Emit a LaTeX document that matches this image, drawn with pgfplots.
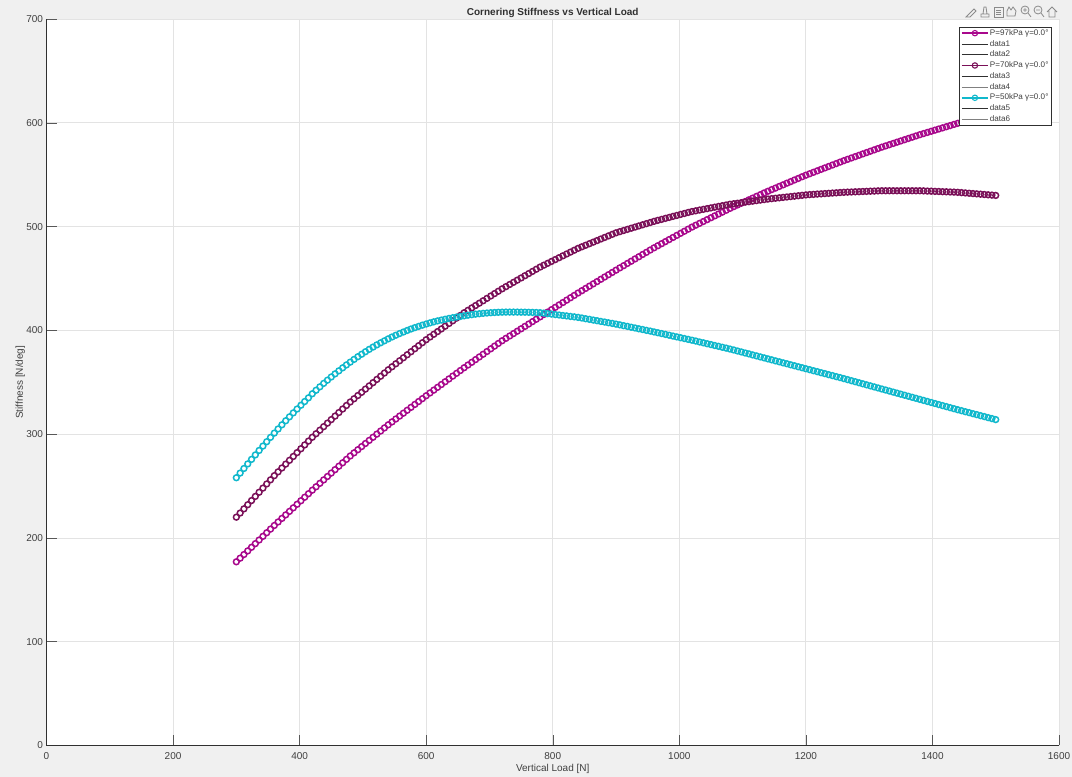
\documentclass[border=0pt]{standalone}
\usepackage{fontspec}
\setmainfont{Liberation Sans}
\usepackage{pgfplots}
\usepackage{pgfplotstable}
\pgfplotsset{compat=1.18}
\definecolor{figbg}{HTML}{F0F0F0}
\definecolor{txt}{HTML}{404040}
\definecolor{axln}{HTML}{303030}
\definecolor{tickc}{HTML}{585858}
\definecolor{gridc}{HTML}{E3E3E3}
\definecolor{cA}{HTML}{A8088C}
\definecolor{cB}{HTML}{7A1058}
\definecolor{cC}{HTML}{10B8CC}
\definecolor{icon}{HTML}{8A8A8A}
% load, then stiffness at 97, 70, 50 kPa
\pgfplotstableread{
x a b c
300 177.0 220.0 258.0
306 180.5 224.0 262.5
312 184.0 228.0 266.9
318 187.5 232.0 271.3
324 191.0 236.0 275.7
330 194.5 240.0 280.0
336 198.0 244.0 284.3
342 201.5 248.0 288.5
348 205.0 252.0 292.7
354 208.5 256.0 296.9
360 212.0 260.0 301.0
366 215.4 263.7 305.0
372 218.8 267.4 309.0
378 222.2 271.1 312.9
384 225.6 274.8 316.7
390 229.0 278.5 320.5
396 232.4 282.2 324.2
402 235.8 285.9 327.8
408 239.2 289.6 331.4
414 242.6 293.3 335.0
420 246.0 297.0 338.9
426 249.3 300.4 342.3
432 252.6 303.8 345.6
438 255.9 307.2 348.9
444 259.2 310.6 352.0
450 262.5 314.0 355.1
456 265.8 317.4 358.1
462 269.1 320.8 361.0
468 272.4 324.2 363.9
474 275.7 327.6 366.7
480 279.0 331.0 369.4
486 282.0 334.1 372.0
492 285.0 337.2 374.6
498 288.0 340.3 377.0
504 291.0 343.4 379.4
510 294.0 346.5 381.7
516 297.0 349.6 383.9
522 300.0 352.7 386.0
528 303.0 355.8 388.0
534 306.0 358.9 389.9
540 309.0 362.0 391.8
546 311.8 364.9 393.6
552 314.6 367.8 395.3
558 317.4 370.7 396.9
564 320.2 373.6 398.4
570 323.0 376.5 399.9
576 325.8 379.4 401.3
582 328.6 382.3 402.6
588 331.4 385.2 403.8
594 334.2 388.1 405.0
600 337.0 391.0 406.1
606 339.7 393.6 407.2
612 342.4 396.2 408.2
618 345.1 398.8 409.1
624 347.8 401.4 409.9
630 350.5 404.0 410.7
636 353.2 406.6 411.5
642 355.9 409.2 412.2
648 358.6 411.8 412.8
654 361.3 414.4 413.4
660 364.0 417.0 414.0
666 366.6 419.3 414.6
672 369.2 421.6 415.1
678 371.8 423.9 415.6
684 374.4 426.2 416.0
690 377.0 428.5 416.4
696 379.6 430.8 416.7
702 382.2 433.1 417.0
708 384.8 435.4 417.2
714 387.4 437.7 417.4
720 390.0 440.0 417.5
726 392.3 442.1 417.6
732 394.6 444.2 417.6
738 396.9 446.3 417.6
744 399.2 448.4 417.6
750 401.5 450.5 417.5
756 403.8 452.6 417.5
762 406.1 454.7 417.4
768 408.4 456.8 417.3
774 410.7 458.9 417.2
780 413.0 461.0 417.0
786 415.3 462.8 416.6
792 417.6 464.6 416.1
798 419.9 466.4 415.7
804 422.2 468.2 415.2
810 424.5 470.0 414.8
816 426.8 471.8 414.3
822 429.1 473.6 413.9
828 431.4 475.4 413.4
834 433.7 477.2 413.0
840 436.0 479.0 412.5
846 438.2 480.5 411.9
852 440.4 482.0 411.2
858 442.6 483.5 410.6
864 444.8 485.0 409.9
870 447.0 486.5 409.3
876 449.2 488.0 408.6
882 451.4 489.5 408.0
888 453.6 491.0 407.3
894 455.8 492.5 406.7
900 458.0 494.0 406.0
906 460.2 495.1 405.3
912 462.3 496.2 404.5
918 464.5 497.3 403.8
924 466.6 498.4 403.0
930 468.8 499.5 402.3
936 470.9 500.6 401.5
942 473.1 501.7 400.8
948 475.2 502.8 400.0
954 477.4 503.9 399.3
960 479.5 505.0 398.5
966 481.5 506.0 397.7
972 483.5 506.9 396.9
978 485.5 507.9 396.1
984 487.5 508.8 395.3
990 489.5 509.8 394.5
996 491.5 510.7 393.7
1002 493.5 511.7 392.9
1008 495.5 512.6 392.1
1014 497.5 513.6 391.3
1020 499.5 514.5 390.5
1026 501.3 515.2 389.7
1032 503.1 515.9 388.8
1038 504.9 516.6 388.0
1044 506.7 517.3 387.1
1050 508.5 518.0 386.3
1056 510.3 518.7 385.4
1062 512.1 519.4 384.6
1068 513.9 520.1 383.7
1074 515.7 520.8 382.9
1080 517.5 521.5 382.0
1086 519.2 522.0 381.1
1092 520.8 522.5 380.1
1098 522.5 523.0 379.2
1104 524.1 523.5 378.2
1110 525.8 524.0 377.3
1116 527.4 524.5 376.3
1122 529.1 525.0 375.4
1128 530.7 525.5 374.4
1134 532.4 526.0 373.5
1140 534.0 526.5 372.5
1146 535.6 526.9 371.6
1152 537.1 527.3 370.6
1158 538.7 527.7 369.7
1164 540.2 528.1 368.7
1170 541.8 528.5 367.8
1176 543.3 528.9 366.8
1182 544.9 529.3 365.9
1188 546.4 529.7 364.9
1194 548.0 530.1 364.0
1200 549.5 530.5 363.0
1206 550.9 530.8 362.1
1212 552.3 531.0 361.1
1218 553.7 531.3 360.2
1224 555.1 531.5 359.2
1230 556.5 531.8 358.3
1236 557.9 532.0 357.3
1242 559.3 532.3 356.4
1248 560.7 532.5 355.4
1254 562.1 532.8 354.5
1260 563.5 533.0 353.5
1266 564.8 533.2 352.5
1272 566.1 533.3 351.5
1278 567.4 533.5 350.5
1284 568.7 533.6 349.5
1290 570.0 533.8 348.5
1296 571.3 533.9 347.5
1302 572.6 534.1 346.5
1308 573.9 534.2 345.5
1314 575.2 534.4 344.5
1320 576.5 534.5 343.5
1326 577.7 534.5 342.5
1332 578.9 534.5 341.5
1338 580.1 534.5 340.5
1344 581.3 534.5 339.5
1350 582.5 534.5 338.5
1356 583.7 534.5 337.5
1362 584.9 534.5 336.5
1368 586.1 534.5 335.5
1374 587.3 534.5 334.5
1380 588.5 534.5 333.5
1386 589.6 534.4 332.5
1392 590.7 534.2 331.5
1398 591.8 534.1 330.5
1404 592.9 533.9 329.5
1410 594.0 533.8 328.5
1416 595.1 533.6 327.5
1422 596.2 533.5 326.5
1428 597.3 533.3 325.5
1434 598.4 533.2 324.5
1440 599.5 533.0 323.5
1446 600.5 532.7 322.6
1452 601.4 532.4 321.6
1458 602.4 532.1 320.7
1464 603.3 531.8 319.7
1470 604.3 531.5 318.8
1476 605.2 531.2 317.8
1482 606.2 530.9 316.9
1488 607.1 530.6 315.9
1494 608.1 530.3 315.0
1500 609.0 530.0 314.0
}\stiff
\begin{document}
\begin{tikzpicture}[x=1pt,y=1pt]
\fill[figbg] (0,0) rectangle (1072,777);
\useasboundingbox (0,0) rectangle (1072,777);
\begin{axis}[
  at={(46.5pt,31.5pt)}, anchor=south west,
  scale only axis, width=1012.5pt, height=726.5pt,
  xmin=0, xmax=1600, ymin=0, ymax=700,
  xtick={0,200,...,1600}, ytick={0,100,...,700},
  axis lines=left, axis line style={-, color=axln, line width=1.3pt},
  axis background/.style={fill=white},
  tick align=inside, tick style={color=tickc, line width=0.5pt},
  major tick length=10pt,
  grid=major, grid style={gridc, line width=0.8pt},
  tick label style={color=txt, font=\fontsize{10}{12}\selectfont},
  /pgf/number format/assume math mode=true,
  /pgf/number format/1000 sep={},
  xticklabel style={yshift=-3pt},
  xlabel={Vertical Load [N]}, ylabel={Stiffness [N/deg]},
  label style={color=txt, font=\fontsize{10}{12}\selectfont},
  xlabel style={at={(axis description cs:0.5,0)}, yshift=-15pt},
  ylabel style={at={(axis description cs:0,0.5)}, yshift=18pt},
  title={\bfseries Cornering Stiffness vs Vertical Load},
  title style={at={(axis description cs:0.5,1)}, yshift=-8pt, font=\fontsize{10}{12}\selectfont, color=axln},
  legend cell align=left,
  legend image code/.code={\draw[mark repeat=2,mark phase=2,#1] plot coordinates {(0pt,0pt)(13pt,0pt)(26pt,0pt)};},
  legend style={at={(0.9921,0.989)}, anchor=north east, draw=axln, line width=0.7pt, fill=white,
    font=\fontsize{8.1}{9.5}\selectfont, text=txt, inner sep=1.5pt, row sep=1.4pt, outer sep=0pt,
    nodes={inner xsep=1pt, inner ysep=1pt}},
  clip mode=individual,
]
\addplot[only marks, mark=o, mark size=2.9pt, forget plot, mark options={color=cA, line width=1.5pt}] table[x=x,y=a] {\stiff};
\addplot[only marks, mark=o, mark size=2.9pt, forget plot, mark options={color=cB, line width=1.5pt}] table[x=x,y=b] {\stiff};
\addplot[only marks, mark=o, mark size=2.9pt, forget plot, mark options={color=cC, line width=1.5pt}] table[x=x,y=c] {\stiff};
\addlegendimage{cA, line width=1.9pt, mark=o, mark size=2.7pt, mark options={line width=1.1pt}}
\addlegendentry{P=97kPa γ=0.0°}
\addlegendimage{axln, line width=0.6pt}
\addlegendentry{data1}
\addlegendimage{axln, line width=0.6pt}
\addlegendentry{data2}
\addlegendimage{cB, line width=1.9pt, mark=o, mark size=2.7pt, mark options={line width=1.1pt}}
\addlegendentry{P=70kPa γ=0.0°}
\addlegendimage{axln, line width=0.6pt}
\addlegendentry{data3}
\addlegendimage{gray, line width=0.8pt}
\addlegendentry{data4}
\addlegendimage{cC, line width=1.9pt, mark=o, mark size=2.7pt, mark options={line width=1.1pt}}
\addlegendentry{P=50kPa γ=0.0°}
\addlegendimage{axln, line width=0.6pt}
\addlegendentry{data5}
\addlegendimage{gray, line width=0.8pt}
\addlegendentry{data6}
\end{axis}
% figure toolbar
\begin{scope}[icon, line width=0.8pt]
\draw (966,760) -- (974,768) -- (976,766) -- (970,760) -- cycle;
\draw (981,760) rectangle (989,763) (983,763) -- (984,770) -- (986,770) -- (987,763);
\draw (994,760) rectangle (1003,770) (996,767) -- (1001,767) (996,765) -- (1001,765) (996,763) -- (1001,763);
\draw (1007,761) -- (1007,766) -- (1009,770) -- (1011,767) -- (1013,770) -- (1016,766) -- (1015,761) -- cycle;
\draw (1025,767) circle (4) (1028,764) -- (1031,760) (1023,767) -- (1027,767) (1025,765) -- (1025,769);
\draw (1038,767) circle (4) (1041,764) -- (1044,760) (1036,767) -- (1040,767);
\draw (1047,765) -- (1052,770) -- (1057,765) (1049,766) -- (1049,760) -- (1055,760) -- (1055,766);
\end{scope}
\end{tikzpicture}
\end{document}
